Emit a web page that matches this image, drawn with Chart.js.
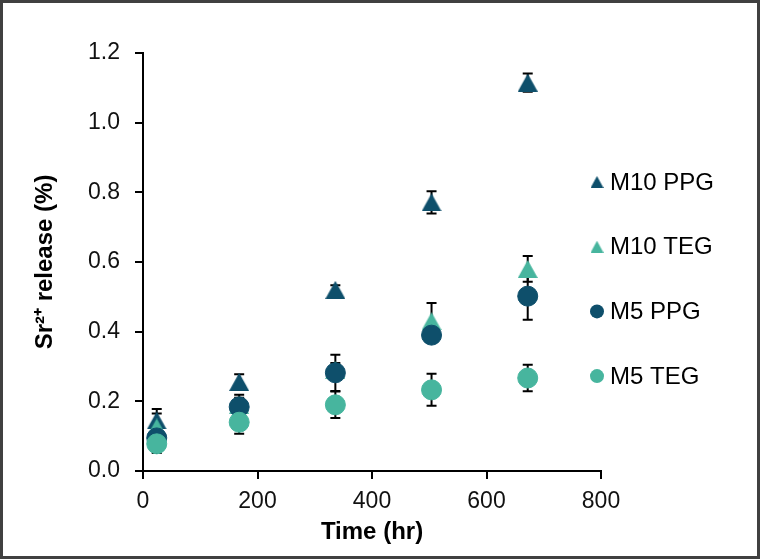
<!DOCTYPE html>
<html>
<head>
<meta charset="utf-8">
<script src="https://cdn.jsdelivr.net/npm/chart.js@4.4.1/dist/chart.umd.min.js"></script>
<style>
  body { margin: 0; background: #fff; }
  #box { position: relative; width: 754px; height: 553px; border: 3px solid #404040; }
</style>
</head>
<body>
<div id="box"><canvas id="myChart"></canvas></div>
<script>
// sampling times (hr)
const times = [24, 168, 336, 504, 672];

// Sr2+ release (%) and error bars
const m10ppg = [0.145, 0.256, 0.52, 0.771, 1.115];
const m10ppgErr = [0.033, 0.022, 0.013, 0.032, 0.026];
const m10teg = [0.125, 0.19, 0.29, 0.43, 0.58];
const m10tegErr = [0.04, 0.02, 0.02, 0.052, 0.037];
const m5ppg = [0.095, 0.184, 0.282, 0.39, 0.502];
const m5ppgErr = [0.02, 0.035, 0.052, 0.02, 0.068];
const m5teg = [0.078, 0.14, 0.19, 0.233, 0.267];
const m5tegErr = [0.026, 0.033, 0.038, 0.046, 0.038];

const xTicks = [0, 200, 400, 600, 800];
const yTicks = [0, 0.2, 0.4, 0.6, 0.8, 1.0, 1.2];

const dark = '#0e4f6b';
const light = '#47b59e';
const font = "'Liberation Sans', Arial, sans-serif";

// triangle marker centred on its box (like the spreadsheet marker)
function triangle(color, w, h) {
    const c = document.createElement('canvas');
    c.width = w; c.height = h;
    const g = c.getContext('2d');
    g.fillStyle = color;
    g.beginPath();
    g.moveTo(w / 2, 0); g.lineTo(w, h); g.lineTo(0, h);
    g.closePath();
    g.fill();
    return c;
}

function pts(vals) {
    return vals.map((v, i) => ({ x: times[i], y: v }));
}

function series(label, vals, errs, color, shape, order) {
    return {
        label: label,
        data: pts(vals),
        errors: errs,
        shape: shape,
        pointStyle: shape === 'triangle' ? triangle(color, 20, 18) : 'circle',
        legendIcon: shape === 'triangle' ? triangle(color, 13, 12) : null,
        pointRadius: 10,
        pointHoverRadius: 10,
        backgroundColor: color,
        borderColor: color,
        borderWidth: 1,
        showLine: false,
        order: order
    };
}

// black error bars with caps, under all markers
const errorBars = {
    id: 'errorBars',
    beforeDatasetsDraw(chart) {
        const ctx = chart.ctx;
        const x = chart.scales.x, y = chart.scales.y;
        ctx.save();
        ctx.strokeStyle = '#000';
        ctx.lineWidth = 2;
        chart.data.datasets.forEach(ds => {
            ds.data.forEach((p, j) => {
                const px = x.getPixelForValue(p.x);
                const hi = y.getPixelForValue(p.y + ds.errors[j]);
                const lo = y.getPixelForValue(p.y - ds.errors[j]);
                ctx.beginPath();
                ctx.moveTo(px, hi); ctx.lineTo(px, lo);
                ctx.moveTo(px - 5, hi); ctx.lineTo(px + 5, hi);
                ctx.moveTo(px - 5, lo); ctx.lineTo(px + 5, lo);
                ctx.stroke();
            });
        });
        ctx.restore();
    }
};

// legend overlapping the right edge of the plot, as in the figure
const sideLegend = {
    id: 'sideLegend',
    afterDraw(chart) {
        const ctx = chart.ctx;
        const lx = chart.chartArea.right - 4;
        ctx.save();
        ctx.font = '24px ' + font;
        ctx.textBaseline = 'middle';
        chart.data.datasets.forEach((ds, i) => {
            const ly = 179 + i * 64.7;
            if (ds.shape === 'triangle') {
                ctx.drawImage(ds.legendIcon, lx - 6.5, ly - 6);
            } else {
                ctx.fillStyle = ds.backgroundColor;
                ctx.beginPath();
                ctx.arc(lx, ly, 7, 0, Math.PI * 2);
                ctx.fill();
            }
            ctx.fillStyle = '#000';
            ctx.fillText(ds.label, lx + 13, ly + 1);
        });
        ctx.restore();
    }
};

const ctx = document.getElementById('myChart').getContext('2d');
const myChart = new Chart(ctx, {
    type: 'scatter',
    data: {
        datasets: [
            series('M10 PPG', m10ppg, m10ppgErr, dark, 'triangle', 4),
            series('M10 TEG', m10teg, m10tegErr, light, 'triangle', 3),
            series('M5 PPG', m5ppg, m5ppgErr, dark, 'circle', 2),
            series('M5 TEG', m5teg, m5tegErr, light, 'circle', 1)
        ]
    },
    options: {
        responsive: true,
        maintainAspectRatio: false,
        animation: false,
        layout: { padding: { top: 50, right: 156, bottom: 0, left: 0 } },
        plugins: {
            legend: { display: false },
            tooltip: { enabled: false }
        },
        scales: {
            x: {
                type: 'linear',
                min: 0,
                max: 800,
                afterFit: s => { s.height = 85; },
                afterBuildTicks: s => { s.ticks = xTicks.map(v => ({ value: v })); },
                ticks: { color: '#111', font: { family: font, size: 23 }, padding: 9, maxRotation: 0 },
                grid: { drawOnChartArea: false, drawTicks: true, tickLength: 8, color: '#000', lineWidth: 2 },
                border: { color: '#000', width: 2 },
                title: {
                    display: true,
                    text: 'Time (hr)',
                    color: '#000',
                    font: { family: font, size: 24, weight: 'bold' },
                    padding: { top: 2, bottom: 9 }
                }
            },
            y: {
                min: 0,
                max: 1.2,
                afterFit: s => { s.width = 140; },
                afterBuildTicks: s => { s.ticks = yTicks.map(v => ({ value: v })); },
                ticks: {
                    color: '#111',
                    font: { family: font, size: 23 },
                    padding: 15,
                    callback: v => v.toFixed(1)
                },
                grid: { drawOnChartArea: false, drawTicks: true, tickLength: 8, color: '#000', lineWidth: 2 },
                border: { color: '#000', width: 2 },
                title: {
                    display: true,
                    text: 'Sr²⁺ release (%)',
                    color: '#000',
                    font: { family: font, size: 24, weight: 'bold' },
                    padding: { top: 28, bottom: 0 }
                }
            }
        }
    },
    plugins: [errorBars, sideLegend]
});
</script>
</body>
</html>
